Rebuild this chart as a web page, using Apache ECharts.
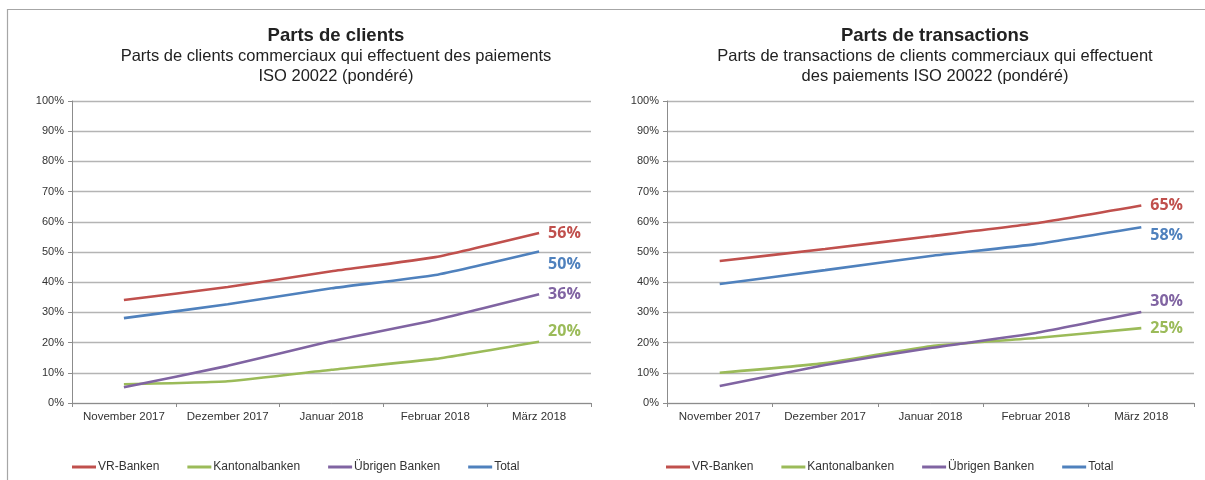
<!DOCTYPE html>
<html>
<head>
<meta charset="utf-8">
<script src="https://cdn.jsdelivr.net/npm/echarts@6/dist/echarts.min.js"></script>
<style>
html,body{margin:0;padding:0;background:#fff;}
#chart{width:1205px;height:480px;}
</style>
</head>
<body>
<div id="chart"></div>
<script>
var categories = ['November 2017', 'Dezember 2017', 'Januar 2018', 'Februar 2018', 'März 2018'];
var seriesNames = ['VR-Banken', 'Kantonalbanken', 'Übrigen Banken', 'Total'];
var yTicks = [0, 10, 20, 30, 40, 50, 60, 70, 80, 90, 100];

// Left chart: Parts de clients (%)
var clientsVR = [34.1, 38.4, 43.6, 48.3, 56.3];
var clientsKanton = [6.2, 7.2, 11.0, 14.6, 20.3];
var clientsUebrige = [5.2, 12.3, 20.5, 27.5, 36.0];
var clientsTotal = [28.1, 32.7, 38.0, 42.4, 50.2];

// Right chart: Parts de transactions (%)
var transVR = [47.0, 51.0, 55.2, 59.5, 65.4];
var transKanton = [10.0, 13.2, 18.8, 21.5, 24.8];
var transUebrige = [5.6, 12.6, 18.2, 23.2, 30.1];
var transTotal = [39.4, 44.0, 48.7, 52.6, 58.2];

var titles = ['Parts de clients', 'Parts de transactions'];
var subtitles = ['Parts de clients commerciaux qui effectuent des paiements\nISO 20022 (pondéré)',
                 'Parts de transactions de clients commerciaux qui effectuent\ndes paiements ISO 20022 (pondéré)'];

var colors = ['#C0504D', '#9BBB59', '#8064A2', '#4F81BD'];

var chart = echarts.init(document.getElementById('chart'));

function mkSeries(name, vals, idx, color, dy) {
  return {
    name: name,
    type: 'line',
    xAxisIndex: idx,
    yAxisIndex: idx,
    smooth: 0.15,
    showSymbol: false,
    symbol: 'none',
    color: color,
    lineStyle: {width: 2.6, color: color},
    animation: false,
    endLabel: {
      show: true,
      distance: 9,
      offset: [0, dy],
      formatter: function (p) { return Math.round(p.value) + '%'; },
      color: color,
      fontFamily: 'Open Sans',
      fontWeight: 'bold',
      fontSize: 16
    },
    data: vals
  };
}

var gridDefs = [{left: 72, right: 614, top: 101, bottom: 77}, {left: 667, right: 11, top: 101, bottom: 77}];
var centers = [331, 930];

function xAxisDef(i) {
  return {
    type: 'category', gridIndex: i, data: categories, boundaryGap: true,
    axisLine: {lineStyle: {color: '#8c8c8c', width: 1}},
    axisTick: {show: true, length: 4, lineStyle: {color: '#8c8c8c'}},
    axisLabel: {color: '#333', fontFamily: 'Liberation Sans', fontSize: 11.5, margin: 8, interval: 0}
  };
}
function yAxisDef(i) {
  return {
    type: 'value', gridIndex: i, min: yTicks[0], max: yTicks[yTicks.length - 1], interval: 10,
    axisLine: {show: true, lineStyle: {color: '#8c8c8c', width: 1}},
    axisTick: {show: true, length: 4, lineStyle: {color: '#8c8c8c'}},
    axisLabel: {color: '#333', fontFamily: 'Liberation Sans', fontSize: 11, margin: 8, formatter: '{value}%'},
    splitLine: {show: true, lineStyle: {color: '#b4b4b4', width: 1.3}}
  };
}

function legendDef(left) {
  return {
    left: left, top: 456, orient: 'horizontal',
    itemWidth: 24, itemHeight: 3, itemGap: 28, icon: 'rect',
    textStyle: {color: '#333', fontFamily: 'Liberation Sans', fontSize: 12, padding: [0, 0, 0, -3]},
    data: seriesNames
  };
}

var option = {
  backgroundColor: '#fff',
  animation: false,
  title: [0, 1].map(function (i) {
    return {
      text: titles[i], subtext: subtitles[i],
      left: centers[i], top: 21, textAlign: 'center', itemGap: 0,
      textStyle: {fontFamily: 'Liberation Sans', fontWeight: 'bold', fontSize: 18.5, color: '#222', lineHeight: 20},
      subtextStyle: {fontFamily: 'Liberation Sans', fontSize: 16.5, color: '#222', lineHeight: 20, align: 'center'}
    };
  }),
  legend: [legendDef(67), legendDef(661)],
  grid: gridDefs,
  xAxis: [xAxisDef(0), xAxisDef(1)],
  yAxis: [yAxisDef(0), yAxisDef(1)],
  series: [
    mkSeries(seriesNames[0], clientsVR, 0, colors[0], 0),
    mkSeries(seriesNames[1], clientsKanton, 0, colors[1], -10),
    mkSeries(seriesNames[2], clientsUebrige, 0, colors[2], 0),
    mkSeries(seriesNames[3], clientsTotal, 0, colors[3], 13),
    mkSeries(seriesNames[0], transVR, 1, colors[0], 0),
    mkSeries(seriesNames[1], transKanton, 1, colors[1], 0),
    mkSeries(seriesNames[2], transUebrige, 1, colors[2], -11),
    mkSeries(seriesNames[3], transTotal, 1, colors[3], 8)
  ],
  graphic: [
    {type: 'line', shape: {x1: 7, y1: 9.5, x2: 1205, y2: 9.5}, style: {stroke: '#a6a6a6', lineWidth: 1.2}, silent: true},
    {type: 'line', shape: {x1: 7.5, y1: 9, x2: 7.5, y2: 480}, style: {stroke: '#a6a6a6', lineWidth: 1.2}, silent: true}
  ]
};
chart.setOption(option);
</script>
</body>
</html>
